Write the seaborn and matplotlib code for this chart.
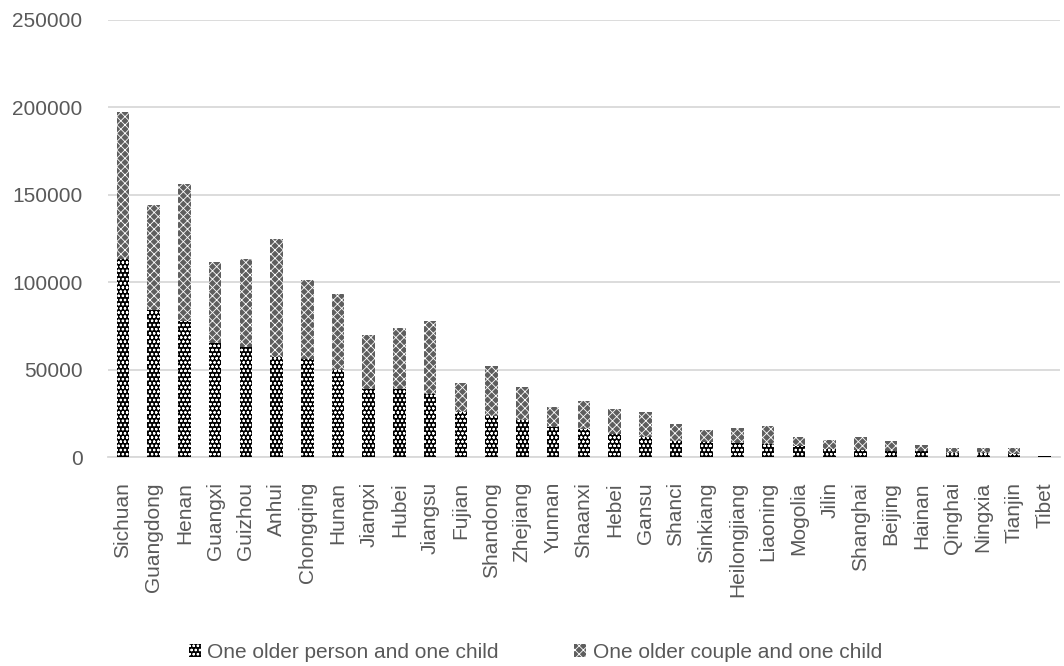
import matplotlib
matplotlib.use("Agg")
import matplotlib.pyplot as plt
import seaborn as sns
import pandas as pd
from matplotlib.patches import Patch

provinces = ["Sichuan", "Guangdong", "Henan", "Guangxi", "Guizhou", "Anhui",
             "Chongqing", "Hunan", "Jiangxi", "Hubei", "Jiangsu", "Fujian",
             "Shandong", "Zhejiang", "Yunnan", "Shaanxi", "Hebei", "Gansu",
             "Shanci", "Sinkiang", "Heilongjiang", "Liaoning", "Mogolia",
             "Jilin", "Shanghai", "Beijing", "Hainan", "Qinghai", "Ningxia",
             "Tianjin", "Tibet"]

older_person_child = [113000, 84000, 77800, 65400, 63000, 57400, 56000, 50000,
                      39000, 38700, 35800, 25600, 23600, 21400, 17000, 15800,
                      13200, 11600, 9300, 8400, 7800, 7200, 6300, 4600, 4000,
                      3600, 3200, 2500, 2500, 2000, 300]

older_couple_child = [84400, 60000, 78200, 46100, 50000, 67100, 45000, 43000,
                      31000, 34900, 42000, 16500, 28300, 18600, 11600, 16100,
                      14300, 14000, 9600, 7200, 8800, 10500, 5300, 5100, 7300,
                      5600, 3700, 2600, 2600, 3000, 400]

series_names = ["One older person and one child", "One older couple and one child"]
y_ticks = [0, 50000, 100000, 150000, 200000, 250000]

df = pd.DataFrame({
    "province": provinces,
    "person": older_person_child,
    "couple": older_couple_child,
})
df["total"] = df["person"] + df["couple"]

sns.set_theme(style="white")
plt.rcParams["font.family"] = ["Liberation Sans", "DejaVu Sans"]
plt.rcParams["hatch.linewidth"] = 0.6

TEXT = "#595959"
GRID = "#d9d9d9"
BOTTOM_FACE, BOTTOM_HATCH = "#000000", "oooo"
TOP_FACE, TOP_HATCH = "#5e5e5e", "xxxx"

fig = plt.figure(figsize=(10.64, 6.66), dpi=100)
ax = fig.add_axes([0.1011, 0.3138, 0.8952, 0.6562])

# stacked bars: totals first, the lower segment drawn over them
sns.barplot(data=df, x="province", y="total", order=provinces, ax=ax,
            color=TOP_FACE, width=0.41, saturation=1, zorder=3)
n_top = len(ax.patches)
sns.barplot(data=df, x="province", y="person", order=provinces, ax=ax,
            color=BOTTOM_FACE, width=0.41, saturation=1, zorder=3)

for i, p in enumerate(ax.patches):
    if i < n_top:
        p.set_facecolor(TOP_FACE)
        p.set_hatch(TOP_HATCH)
    else:
        p.set_facecolor(BOTTOM_FACE)
        p.set_hatch(BOTTOM_HATCH)
    p.set_edgecolor("white")
    p.set_linewidth(0)

ax.set_ylim(0, 250000)
ax.set_yticks(y_ticks)
ax.set_yticklabels([str(v) for v in y_ticks])
ax.yaxis.grid(True, color=GRID, linewidth=1.3, zorder=0)
ax.set_axisbelow(True)
ax.set_xlabel("")
ax.set_ylabel("")

for s in ["top", "right", "left"]:
    ax.spines[s].set_visible(False)
ax.spines["bottom"].set_color(GRID)
ax.spines["bottom"].set_linewidth(1.3)

ax.tick_params(axis="both", length=0, labelsize=15, labelcolor=TEXT, pad=18)
plt.setp(ax.get_xticklabels(), rotation=90, ha="center", va="top")

handles = [
    Patch(facecolor=BOTTOM_FACE, edgecolor="white", hatch=BOTTOM_HATCH, linewidth=0),
    Patch(facecolor=TOP_FACE, edgecolor="white", hatch=TOP_HATCH, linewidth=0),
]
fig.legend(handles, series_names, loc="center", bbox_to_anchor=(0.503, 0.021),
           ncol=2, frameon=False, fontsize=15, labelcolor=TEXT,
           handlelength=0.6, handleheight=0.6, handletextpad=0.3,
           columnspacing=3.6)

fig.savefig("out.png", dpi=100)
